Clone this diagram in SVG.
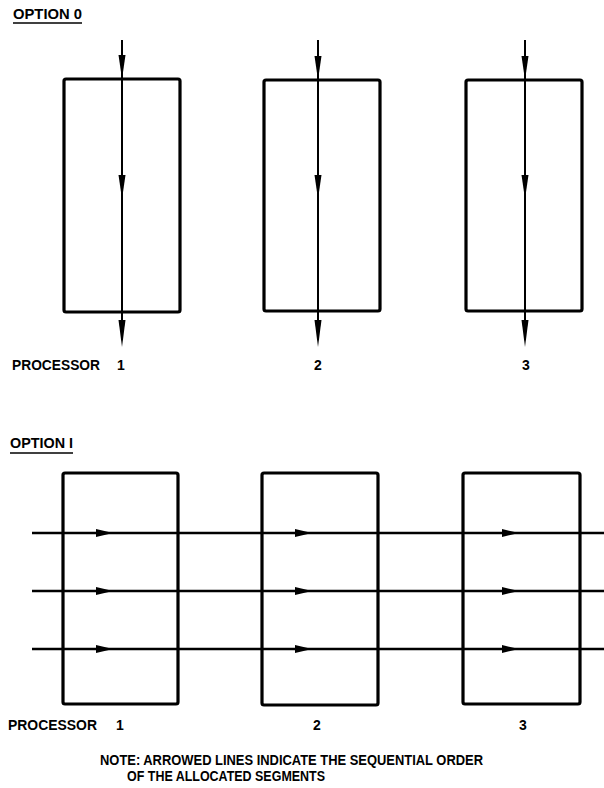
<svg xmlns="http://www.w3.org/2000/svg" width="604" height="788" viewBox="0 0 604 788">
<style>
.box{fill:none;stroke:#000;stroke-width:3.2;stroke-linejoin:round}
.ln{stroke:#000;stroke-width:2;fill:none}
.ln2{stroke:#000;stroke-width:2.4;fill:none}
.ah{fill:#000}
.t{font-family:"Liberation Sans",Arial,sans-serif;font-weight:bold;font-size:14px;fill:#000}
.ul{stroke:#000;stroke-width:1.6}
</style>
<rect width="604" height="788" fill="#fff"/>
<g id="title0">
<text class="t" x="13" y="19" textLength="69" lengthAdjust="spacingAndGlyphs" font-size="13">OPTION 0</text>
<line class="ul" x1="13" y1="23" x2="82" y2="23"/>
</g>
<g id="o0-p1"><rect class="box" x="64" y="79" width="116" height="233" rx="2"/></g>
<g id="o0-p2"><rect class="box" x="264" y="80" width="116" height="231" rx="2"/></g>
<g id="o0-p3"><rect class="box" x="466" y="80" width="116" height="231" rx="2"/></g>
<g id="o0-labels">
<text class="t" x="12" y="370" textLength="88" lengthAdjust="spacingAndGlyphs">PROCESSOR</text>
<text class="t" x="121" y="370" text-anchor="middle">1</text>
<text class="t" x="318" y="370" text-anchor="middle">2</text>
<text class="t" x="526" y="370" text-anchor="middle">3</text>
</g>
<g id="title1">
<text class="t" x="10" y="448" textLength="63" lengthAdjust="spacingAndGlyphs" font-size="13">OPTION I</text>
<line class="ul" x1="10" y1="453" x2="73" y2="453"/>
</g>
<g id="o1-p1"><rect class="box" x="63" y="473" width="115" height="231" rx="2"/></g>
<g id="o1-p2"><rect class="box" x="262" y="473" width="116" height="232" rx="2"/></g>
<g id="o1-p3"><rect class="box" x="463" y="473" width="117" height="231" rx="2"/></g>
<g id="o1-labels">
<text class="t" x="8" y="730" textLength="89" lengthAdjust="spacingAndGlyphs" font-size="13">PROCESSOR</text>
<text class="t" x="120" y="730" text-anchor="middle" font-size="13">1</text>
<text class="t" x="317" y="730" text-anchor="middle" font-size="13">2</text>
<text class="t" x="523" y="730" text-anchor="middle" font-size="13">3</text>
</g>
<g id="note">
<text class="t" x="100" y="765" textLength="383" lengthAdjust="spacingAndGlyphs" font-size="12">NOTE: ARROWED LINES INDICATE THE SEQUENTIAL ORDER</text>
<text class="t" x="127" y="781" textLength="198" lengthAdjust="spacingAndGlyphs" font-size="12">OF THE ALLOCATED SEGMENTS</text>
</g>
<g id="connectors">
<line class="ln" x1="122" y1="40" x2="122" y2="340"/>
<polygon class="ah" points="118.5,55 125.5,55 122,79"/>
<polygon class="ah" points="118.5,175 125.5,175 122,199"/>
<polygon class="ah" points="118.5,320 125.5,320 122,347"/>
<line class="ln" x1="318" y1="40" x2="318" y2="340"/>
<polygon class="ah" points="314.5,56 321.5,56 318,80"/>
<polygon class="ah" points="314.5,175 321.5,175 318,199"/>
<polygon class="ah" points="314.5,320 321.5,320 318,347"/>
<line class="ln" x1="525" y1="40" x2="525" y2="340"/>
<polygon class="ah" points="521.5,56 528.5,56 525,80"/>
<polygon class="ah" points="521.5,175 528.5,175 525,199"/>
<polygon class="ah" points="521.5,320 528.5,320 525,347"/>
<line class="ln2" x1="32" y1="533" x2="604" y2="533"/>
<line class="ln2" x1="32" y1="591" x2="604" y2="591"/>
<line class="ln2" x1="32" y1="649" x2="604" y2="649"/>
<polygon class="ah" points="96,529 96,537 113,533"/>
<polygon class="ah" points="96,587 96,595 113,591"/>
<polygon class="ah" points="96,645 96,653 113,649"/>
<polygon class="ah" points="295,529 295,537 312,533"/>
<polygon class="ah" points="295,587 295,595 312,591"/>
<polygon class="ah" points="295,645 295,653 312,649"/>
<polygon class="ah" points="502,529 502,537 519,533"/>
<polygon class="ah" points="502,587 502,595 519,591"/>
<polygon class="ah" points="502,645 502,653 519,649"/>
</g>
</svg>
